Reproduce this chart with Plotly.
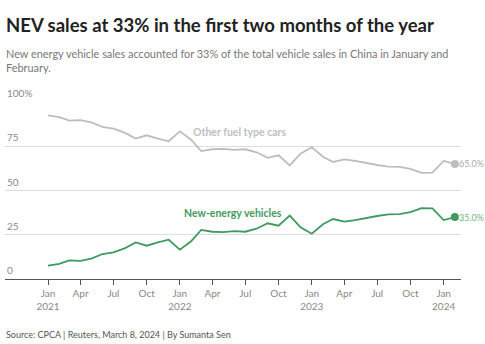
import plotly.graph_objects as go

# Monthly share of China vehicle sales, Jan 2021 - Feb 2024 (%)
months = [f"{y}-{m:02d}-01" for y in (2021, 2022, 2023) for m in range(1, 13)] + ["2024-01-01", "2024-02-01"]
nev_share = [7.5, 8.5, 10.5, 10.2, 11.5, 14.1, 15.0, 17.3, 20.7, 18.8, 20.7, 22.2,
             16.6, 21.3, 27.7, 26.7, 26.5, 27.1, 26.7, 28.4, 31.5, 30.1, 35.8, 29.2,
             25.6, 30.9, 33.9, 32.4, 33.3, 34.6, 35.6, 36.5, 36.7, 37.8, 40.0, 39.9,
             33.3, 35.0]
other_share = [92.5, 91.5, 89.5, 89.8, 88.5, 85.9, 85.0, 82.7, 79.3, 81.2, 79.3, 77.8,
               83.4, 78.7, 72.3, 73.3, 73.5, 72.9, 73.3, 71.6, 68.5, 69.9, 64.2, 70.8,
               74.4, 69.1, 66.1, 67.6, 66.7, 65.4, 64.4, 63.5, 63.3, 62.2, 60.0, 60.1,
               66.7, 65.0]

tick_dates = ["2021-01-01", "2021-04-01", "2021-07-01", "2021-10-01",
              "2022-01-01", "2022-04-01", "2022-07-01", "2022-10-01",
              "2023-01-01", "2023-04-01", "2023-07-01", "2023-10-01", "2024-01-01"]
tick_text = ["Jan<br>2021", "Apr", "Jul", "Oct", "Jan<br>2022", "Apr", "Jul", "Oct",
             "Jan<br>2023", "Apr", "Jul", "Oct", "Jan<br>2024"]
y_ticks = [0, 25, 50, 75, 100]
y_labels = ["0", "25", "50", "75", "100%"]

GREEN = "#3f9a5e"
GREY = "#bdbdbd"
FONT = "Lato"

fig = go.Figure()
fig.add_trace(go.Scatter(x=months, y=other_share, mode="lines",
                         line=dict(color=GREY, width=1.8), hoverinfo="skip"))
fig.add_trace(go.Scatter(x=months, y=nev_share, mode="lines",
                         line=dict(color=GREEN, width=1.8), hoverinfo="skip"))
# End-point markers
fig.add_trace(go.Scatter(x=[months[-1]], y=[other_share[-1]], mode="markers",
                         marker=dict(color=GREY, size=8), cliponaxis=False, hoverinfo="skip"))
fig.add_trace(go.Scatter(x=[months[-1]], y=[nev_share[-1]], mode="markers",
                         marker=dict(color=GREEN, size=8), cliponaxis=False, hoverinfo="skip"))

annotations = [
    dict(text="<b>NEV sales at 33% in the first two months of the year</b>",
         xref="paper", yref="paper", x=-0.002, y=1.435, xanchor="left", yanchor="middle",
         showarrow=False, font=dict(family=FONT, size=18.5, color="#222222")),
    dict(text="New energy vehicle sales accounted for 33% of the total vehicle sales in China in January and<br>February.",
         xref="paper", yref="paper", x=-0.002, y=1.237, xanchor="left", yanchor="middle",
         align="left", showarrow=False, font=dict(family=FONT, size=10.9, color="#777777")),
    dict(text="Source: CPCA | Reuters, March 8, 2024 | By Sumanta Sen",
         xref="paper", yref="paper", x=-0.002, y=-0.311, xanchor="left", yanchor="middle",
         showarrow=False, font=dict(family=FONT, size=9, color="#555555")),
    dict(text="<b>Other fuel type cars</b>", x="2022-02-01", y=83, xanchor="left",
         yanchor="middle", showarrow=False, font=dict(family=FONT, size=10.5, color="#c0c0c0")),
    dict(text="<b>New-energy vehicles</b>", x="2022-01-06", y=37.5, xanchor="left",
         yanchor="middle", showarrow=False, font=dict(family=FONT, size=10.5, color=GREEN)),
    # End-point value labels
    dict(text=f"{other_share[-1]:.1f}%", x=months[-1], y=other_share[-1], xanchor="left",
         yanchor="middle", xshift=3, borderpad=0, showarrow=False,
         font=dict(family=FONT, size=9, color="#aaaaaa")),
    dict(text=f"{nev_share[-1]:.1f}%", x=months[-1], y=nev_share[-1], xanchor="left",
         yanchor="middle", xshift=3, borderpad=0, showarrow=False,
         font=dict(family=FONT, size=9, color="#6fb585")),
]
for v, lab in zip(y_ticks, y_labels):
    annotations.append(dict(text=lab, xref="paper", x=0, y=v, xanchor="left", yanchor="bottom",
                            yshift=1, showarrow=False,
                            font=dict(family=FONT, size=10, color="#888888")))

fig.update_layout(
    width=485, height=344,
    margin=dict(l=5, r=24, t=102, b=65),
    paper_bgcolor="white", plot_bgcolor="white",
    showlegend=False,
    annotations=annotations,
    xaxis=dict(type="date", range=["2020-09-04", "2024-02-18"],
               tickvals=tick_dates, ticktext=tick_text,
               ticks="outside", ticklen=5, tickcolor="#555555", tickwidth=1,
               showline=True, linecolor="#555555", linewidth=1,
               showgrid=False, zeroline=False,
               tickfont=dict(family=FONT, size=10, color="#888888")),
    yaxis=dict(range=[0, 100], tickvals=[25, 50, 75, 100], showticklabels=False,
               showgrid=True, gridcolor="#dddddd", gridwidth=1, zeroline=False),
)

fig.write_html("out.html")
